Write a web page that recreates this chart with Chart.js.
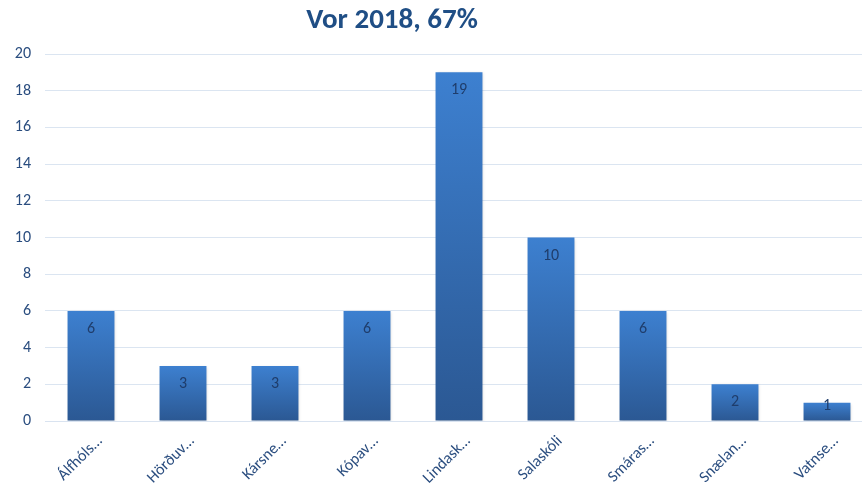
<!DOCTYPE html>
<html><head><meta charset="utf-8">
<script src="https://cdn.jsdelivr.net/npm/chart.js@4/dist/chart.umd.min.js"></script>
<style>html,body{margin:0;padding:0;background:#fff;overflow:hidden}#wrap{width:862px;height:486px;overflow:hidden}</style>
</head><body><div id="wrap"><canvas id="c" width="874" height="486"></canvas></div>
<script>
const categories = ["Álfhóls…","Hörðuv…","Kársne…","Kópav…","Lindask…","Salaskóli","Smáras…","Snælan…","Vatnse…"];
const values = [6,3,3,6,19,10,6,2,1];
const titleText = "Vor 2018, 67%";
const FONT = "Carlito,Calibri,'Open Sans',sans-serif";
const TXT = '#2a4d7f';

const titlePlugin = {
  id:'ttl',
  afterDraw(chart){
    const ctx = chart.ctx;
    ctx.save();
    ctx.font = "bold 29px " + FONT;
    ctx.fillStyle = '#1f4e85';
    ctx.textAlign = 'center';
    ctx.textBaseline = 'middle';
    ctx.fillText(titleText, 392, 21);
    ctx.restore();
  }
};

const labelPlugin = {
  id:'lbl',
  beforeDatasetsDraw(chart){
    const ctx = chart.ctx;
    ctx.save();
    ctx.shadowColor = 'rgba(0,0,0,0.18)';
    ctx.shadowBlur = 3;
    ctx.shadowOffsetX = 1;
    ctx.shadowOffsetY = 1;
  },
  afterDatasetsDraw(chart){
    const ctx = chart.ctx;
    ctx.restore();
    const meta = chart.getDatasetMeta(0);
    ctx.save();
    ctx.font = "16px " + FONT;
    ctx.fillStyle = '#1f3d6b';
    ctx.textAlign = 'center';
    ctx.textBaseline = 'middle';
    meta.data.forEach((b,i)=>{
      const h = b.base - b.y;
      const off = h >= 30 ? 18 : h - 15;
      ctx.fillText(String(values[i]), b.x, b.y + off);
    });
    ctx.restore();
  }
};

const ctx = document.getElementById('c').getContext('2d');
new Chart(ctx,{
  type:'bar',
  data:{labels:categories,datasets:[{
    data:values,
    backgroundColor:(c)=>{
      const ch=c.chart; const a=ch.chartArea; if(!a || c.parsed===undefined) return '#3570b8';
      const ys = ch.scales.y;
      const top = ys.getPixelForValue(c.parsed.y);
      const bot = ys.getPixelForValue(0);
      const g=ch.ctx.createLinearGradient(0,top,0,bot);
      g.addColorStop(0,'#3d80d0');
      g.addColorStop(1,'#2b5893');
      return g;
    },
    borderWidth:0,
    categoryPercentage:0.51,
    barPercentage:1.0
  }]},
  options:{
    responsive:false,animation:false,
    layout:{padding:{top:54,right:1,left:8,bottom:0}},
    plugins:{legend:{display:false},tooltip:{enabled:false},title:{display:false}},
    scales:{
      x:{grid:{display:false},border:{display:true,color:'#d9e3f0'},
        ticks:{color:TXT,font:{family:FONT,size:16},maxRotation:45,minRotation:45,autoSkip:false,padding:3,labelOffset:9},
        afterFit(s){s.height=65;}},
      y:{min:0,max:20,grid:{color:'#dbe5f1',drawTicks:false},border:{display:false},
        ticks:{stepSize:2,color:TXT,font:{family:FONT,size:16},padding:14},
        afterFit(s){s.width=37;}}
    }
  },
  plugins:[labelPlugin,titlePlugin]
});
</script></body></html>
